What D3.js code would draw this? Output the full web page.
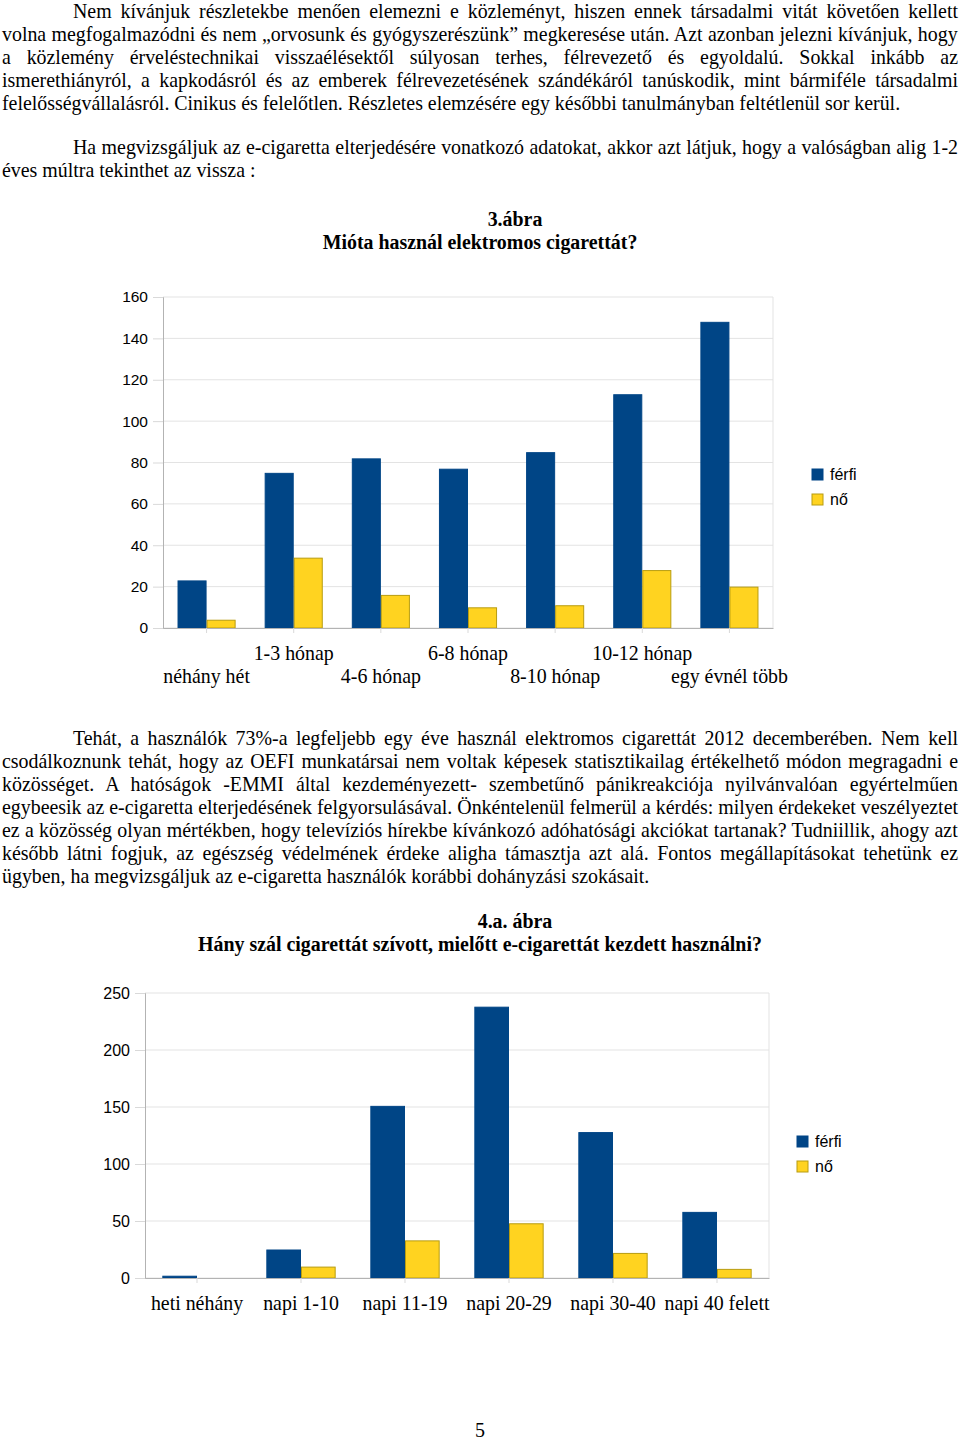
<!DOCTYPE html>
<html lang="hu">
<head>
<meta charset="UTF-8">
<title>E-cigaretta használat</title>
<style>
  body{margin:0;background:#fff;}
  svg{display:block;background:#fff;}
  .txt{font-family:"Liberation Serif","Times New Roman",serif;font-size:19.9px;fill:#000;}
  .ttl{font-family:"Liberation Serif","Times New Roman",serif;font-size:19.9px;font-weight:bold;fill:#000;}
  .num{font-family:"Liberation Sans",Arial,sans-serif;font-size:15.5px;fill:#000;}
  .cat{font-family:"Liberation Serif","Times New Roman",serif;font-size:19.9px;fill:#000;}
</style>
</head>
<body>
<svg width="960" height="1440"></svg>
<script src="https://cdn.jsdelivr.net/npm/d3@7"></script>
<script>
  // adatok
  var series = ['férfi', 'nő'];
  var colors = ['#004586', '#ffd320'];
  var edges = ['#004586', '#b89c10'];

  var cat1 = ['néhány hét', '1-3 hónap', '4-6 hónap', '6-8 hónap', '8-10 hónap', '10-12 hónap', 'egy évnél több'];
  var ferfi1 = [23, 75, 82, 77, 85, 113, 148];
  var no1 = [4, 34, 16, 10, 11, 28, 20];
  var ticks1 = [0, 20, 40, 60, 80, 100, 120, 140, 160];

  var cat2 = ['heti néhány', 'napi 1-10', 'napi 11-19', 'napi 20-29', 'napi 30-40', 'napi 40 felett'];
  var ferfi2 = [2, 25, 151, 238, 128, 58];
  var no2 = [0, 10, 33, 48, 22, 8];
  var ticks2 = [0, 50, 100, 150, 200, 250];

  var para1 = [
    'Nem kívánjuk részletekbe menően elemezni e közleményt, hiszen ennek társadalmi vitát követően kellett',
    'volna megfogalmazódni és nem „orvosunk és gyógyszerészünk”  megkeresése után. Azt azonban jelezni kívánjuk, hogy',
    'a közlemény érveléstechnikai visszaélésektől súlyosan terhes, félrevezető és egyoldalú. Sokkal inkább az',
    'ismerethiányról, a kapkodásról és az emberek félrevezetésének szándékáról tanúskodik, mint bármiféle társadalmi',
    'felelősségvállalásról. Cinikus és felelőtlen. Részletes elemzésére egy későbbi tanulmányban feltétlenül sor kerül.'
  ];
  var para2 = [
    'Ha megvizsgáljuk az e-cigaretta elterjedésére vonatkozó adatokat, akkor azt látjuk, hogy a valóságban alig 1-2',
    'éves múltra tekinthet az vissza :'
  ];
  var para3 = [
    'Tehát, a használók 73%-a legfeljebb egy éve használ elektromos cigarettát 2012 decemberében. Nem kell',
    'csodálkoznunk tehát, hogy az OEFI munkatársai nem voltak képesek statisztikailag értékelhető módon megragadni e',
    'közösséget. A hatóságok -EMMI által kezdeményezett- szembetűnő pánikreakciója nyilvánvalóan egyértelműen',
    'egybeesik az e-cigaretta elterjedésének felgyorsulásával. Önkéntelenül felmerül a kérdés: milyen érdekeket veszélyeztet',
    'ez a közösség  olyan mértékben, hogy televíziós hírekbe kívánkozó adóhatósági akciókat tartanak? Tudniillik, ahogy azt',
    'később látni fogjuk, az egészség védelmének érdeke aligha támasztja azt alá. Fontos megállapításokat tehetünk ez',
    'ügyben, ha megvizsgáljuk az  e-cigaretta használók korábbi dohányzási szokásait.'
  ];

  var svg = d3.select('svg');

  // sorkizárt bekezdés
  function paragraph(lines, y0) {
    lines.forEach(function (line, i) {
      var x = i === 0 ? 73 : 2;
      var t = svg.append('text').attr('class', 'txt').attr('x', x).attr('y', y0 + i * 23).text(line);
      if (i < lines.length - 1) {
        var w = t.node().getComputedTextLength();
        var gaps = line.split(' ').length - 1;
        t.style('word-spacing', ((958 - x - w) / gaps) + 'px');
      }
    });
  }

  function title(a, b, y) {
    svg.append('text').attr('class', 'ttl').attr('x', 515).attr('y', y).attr('text-anchor', 'middle').text(a);
    svg.append('text').attr('class', 'ttl').attr('x', 480).attr('y', y + 23).attr('text-anchor', 'middle').text(b);
  }

  function chart(c) {
    var x = d3.scaleBand().domain(c.cats).range([c.left, c.right]).paddingInner(1 / 3).paddingOuter(1 / 6);
    var xs = d3.scaleBand().domain(series).range([0, x.bandwidth()]);
    var y = d3.scaleLinear().domain([0, d3.max(c.ticks)]).range([c.bottom, c.top]);
    var g = svg.append('g');

    // rács
    g.selectAll('.grid').data(c.ticks).enter().append('line')
      .attr('x1', c.left).attr('x2', c.right)
      .attr('y1', function (d) { return y(d); }).attr('y2', function (d) { return y(d); })
      .attr('stroke', '#e3e3e3');
    g.append('line').attr('x1', c.right).attr('x2', c.right).attr('y1', c.top).attr('y2', c.bottom).attr('stroke', '#e3e3e3');

    var ya = g.append('g').attr('transform', 'translate(' + c.left + ',0)')
      .call(d3.axisLeft(y).tickValues(c.ticks).tickSize(10).tickPadding(5));
    ya.select('.domain').attr('stroke', '#b3b3b3');
    ya.selectAll('.tick line').attr('stroke', '#d9d9d9');
    ya.selectAll('text').attr('class', 'num').attr('font-family', null).attr('font-size', null)
      .style('font-size', c.numSize + 'px');

    // oszlopok
    var vals = [c.ferfi, c.no];
    var grp = g.selectAll('.grp').data(c.cats).enter().append('g')
      .attr('transform', function (d) { return 'translate(' + x(d) + ',0)'; });
    grp.selectAll('rect').data(function (d, i) {
      return series.map(function (s, k) { return {s: s, k: k, v: vals[k][i]}; });
    }).enter().append('rect')
      .attr('x', function (d) { return xs(d.s) + 0.5; })
      .attr('width', xs.bandwidth() - 1)
      .attr('y', function (d) { return y(d.v) + 0.5; })
      .attr('height', function (d) { return Math.max(0, c.bottom - y(d.v) - 0.5); })
      .attr('fill', function (d) { return colors[d.k]; })
      .attr('stroke', function (d) { return d.v > 0 ? edges[d.k] : 'none'; })
      .attr('stroke-width', 1);

    var xa = g.append('g').attr('transform', 'translate(0,' + c.bottom + ')')
      .call(d3.axisBottom(x).tickSize(5).tickPadding(12).tickSizeOuter(0));
    xa.select('.domain').attr('stroke', '#b3b3b3');
    xa.selectAll('.tick line').attr('stroke', '#d9d9d9');
    xa.selectAll('text').attr('class', 'cat').attr('font-family', null).attr('font-size', null)
      .attr('dy', function (d, i) { return c.stagger ? (i % 2 === 0 ? '1.9em' : '0.75em') : '0.75em'; });

    // jelmagyarázat
    var lg = g.append('g').attr('transform', 'translate(' + c.legX + ',' + c.legY + ')');
    series.forEach(function (s, k) {
      lg.append('rect').attr('x', 0).attr('y', k * 25 - 11).attr('width', 11).attr('height', 11)
        .attr('fill', colors[k]).attr('stroke', edges[k]);
      lg.append('text').attr('class', 'num').attr('x', 18).attr('y', k * 25).style('font-size', '16px').text(s);
    });
  }

  paragraph(para1, 18);
  paragraph(para2, 154);
  title('3.ábra', 'Mióta használ elektromos cigarettát?', 226);
  chart({cats: cat1, ferfi: ferfi1, no: no1, ticks: ticks1, left: 163, right: 773, top: 297, bottom: 628,
    stagger: true, legX: 812, legY: 480, numSize: 15.5});
  paragraph(para3, 745);
  title('4.a. ábra', 'Hány szál cigarettát szívott, mielőtt e-cigarettát kezdett használni?', 928);
  chart({cats: cat2, ferfi: ferfi2, no: no2, ticks: ticks2, left: 145, right: 769, top: 993, bottom: 1278,
    stagger: false, legX: 797, legY: 1147, numSize: 16});
  svg.append('text').attr('class', 'txt').attr('x', 480).attr('y', 1437).attr('text-anchor', 'middle')
    .style('font-size', '20px').text('5');
</script>
</body>
</html>
